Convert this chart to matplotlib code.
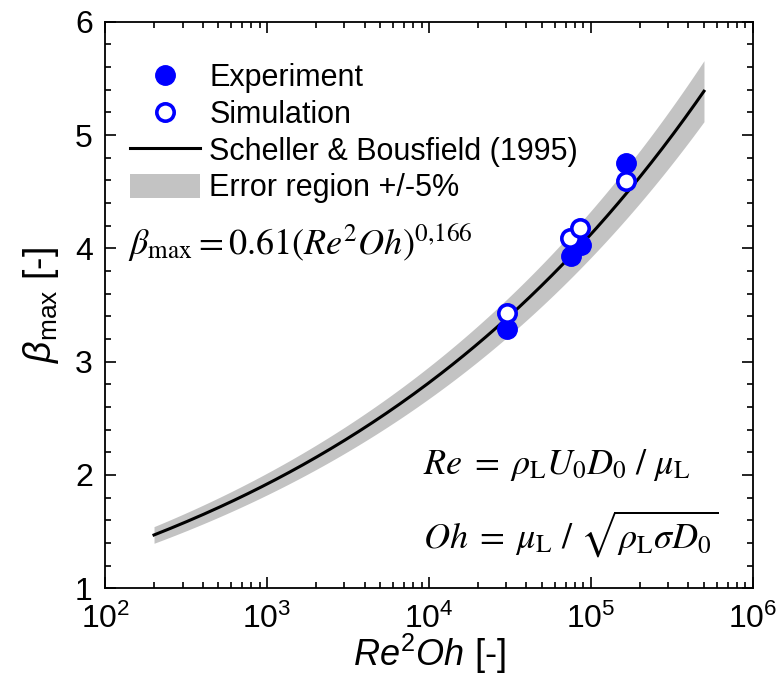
import numpy as np
import matplotlib
matplotlib.use("Agg")
import matplotlib.pyplot as plt
from matplotlib.lines import Line2D
from matplotlib.patches import Patch
from matplotlib.ticker import MultipleLocator, LogLocator

plt.rcParams['font.family'] = ['Liberation Sans', 'DejaVu Sans']
plt.rcParams['mathtext.fontset'] = 'custom'
plt.rcParams['mathtext.rm'] = 'Liberation Sans'
plt.rcParams['mathtext.it'] = 'Liberation Sans:italic'
plt.rcParams['mathtext.bf'] = 'Liberation Sans:bold'

# Experiment / simulation points (Re^2 Oh, beta_max)
exp_x = [3.05e4, 7.5e4, 8.7e4, 1.65e5]
exp_y = [3.29, 3.93, 4.03, 4.75]
sim_x = [3.05e4, 7.4e4, 8.6e4, 1.65e5]
sim_y = [3.43, 4.09, 4.18, 4.59]

# Scheller & Bousfield (1995) correlation: beta = C * (Re^2 Oh)^n
corr_C = 0.61
corr_n = 0.166
corr_range = (200, 5e5)
err_frac = 0.05

xc = np.logspace(np.log10(corr_range[0]), np.log10(corr_range[1]), 200)
yc = corr_C * xc ** corr_n

fig = plt.figure(figsize=(7.8, 6.8), dpi=100)
ax = fig.add_axes([0.135, 0.135, 0.830, 0.833])

ax.fill_between(xc, yc * (1 - err_frac), yc * (1 + err_frac), color='#c3c3c3', lw=0, zorder=1)
ax.plot(xc, yc, color='black', lw=2.2, zorder=2)
ax.plot(exp_x, exp_y, 'o', color='#0000ff', ms=14, zorder=3)
ax.plot(sim_x, sim_y, 'o', mfc='white', mec='#0000ff', mew=2.6, ms=12.5, zorder=4)

ax.set_xscale('log')
ax.set_xlim(1e2, 1e6)
ax.set_ylim(1, 6)
ax.yaxis.set_major_locator(MultipleLocator(1))
ax.yaxis.set_minor_locator(MultipleLocator(0.2))
ax.xaxis.set_minor_locator(LogLocator(base=10, subs=np.arange(2, 10)))
ax.tick_params(which='both', direction='in', top=True, right=True, width=1.2)
ax.tick_params(which='major', length=8, labelsize=23)
ax.tick_params(axis='x', which='major', pad=11)
ax.tick_params(axis='y', which='major', pad=9)
ax.tick_params(which='minor', length=4.5)
for s in ax.spines.values():
    s.set_linewidth(1.3)

ax.set_xlabel(r'$Re^{2}Oh$ [-]', fontsize=26, labelpad=-2)
ax.set_ylabel(r'$\beta_{\mathrm{max}}$ [-]', fontsize=27, labelpad=10)

handles = [
    Line2D([], [], ls='none', marker='o', color='#0000ff', ms=14),
    Line2D([], [], ls='none', marker='o', mfc='white', mec='#0000ff', mew=2.6, ms=12.5),
    Line2D([], [], color='black', lw=2.2),
    Patch(color='#c3c3c3', lw=0),
]
labels = ['Experiment', 'Simulation', 'Scheller & Bousfield (1995)', 'Error region +/-5%']
ax.legend(handles, labels, loc='upper left', bbox_to_anchor=(0.0, 0.97), frameon=False,
          fontsize=22, handlelength=2.3, handleheight=0.85, handletextpad=0.3,
          labelspacing=0.22, borderaxespad=0.4)

ax.text(0.035, 0.612, r'$\beta_{\mathrm{max}} = 0.61(Re^{2}Oh)^{0{,}166}$', transform=ax.transAxes,
        fontsize=26, va='center', ha='left', math_fontfamily='stix')
ax.text(0.49, 0.217, r'$Re\;=\;\rho_{\mathrm{L}}U_{0}D_{0}\ /\ \mu_{\mathrm{L}}$', transform=ax.transAxes,
        fontsize=26, va='center', ha='left', math_fontfamily='stix')
ax.text(0.49, 0.097, r'$Oh\;=\;\mu_{\mathrm{L}}\ /\ \sqrt{\rho_{\mathrm{L}}\sigma D_{0}}$', transform=ax.transAxes,
        fontsize=26, va='center', ha='left', math_fontfamily='stix')

fig.savefig('out.png', dpi=100)
